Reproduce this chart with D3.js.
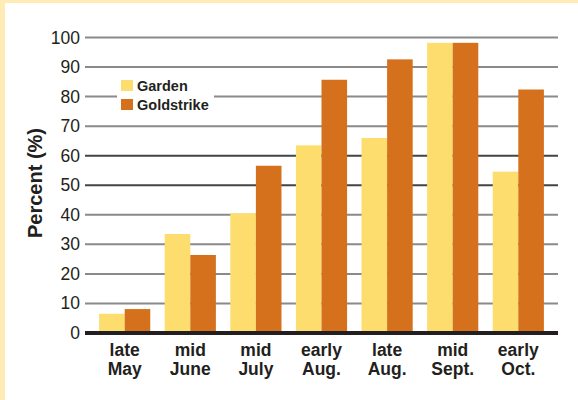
<!DOCTYPE html>
<html>
<head>
<meta charset="utf-8">
<script src="https://cdn.jsdelivr.net/npm/d3@7"></script>
<style>
  body { margin: 0; background: #fff; }
  text { font-family: "Liberation Sans", Arial, Helvetica, sans-serif; fill: #231f20; }
</style>
</head>
<body>
<script>
// data
var periods = [["late", "May"], ["mid", "June"], ["mid", "July"], ["early", "Aug."],
               ["late", "Aug."], ["mid", "Sept."], ["early", "Oct."]];
var garden = [6.5, 33.5, 40.5, 63.5, 66, 98.2, 54.6];
var goldstrike = [8.1, 26.4, 56.6, 85.7, 92.6, 98.2, 82.4];
var series = ["Garden", "Goldstrike"];
var yTicks = [0, 10, 20, 30, 40, 50, 60, 70, 80, 90, 100];

var width = 578, height = 400;
var svg = d3.select('body').append('svg').attr('width', width).attr('height', height);

// pale frame on the top and left
svg.append("rect").attr("x", 0).attr("y", 0).attr("width", width).attr("height", height).attr("fill", "#feecb4");
svg.append("rect").attr("x", 5).attr("y", 3).attr("width", width).attr("height", height).attr("fill", "#fff");

var color = d3.scaleOrdinal().domain(series).range(['#fddd6e', '#d5701c']);

var x = d3.scaleBand()
    .domain(d3.range(periods.length))
    .range([85, 558])
    .paddingInner(0.22)
    .paddingOuter(0.215);

var xs = d3.scaleBand().domain(series).range([0, x.bandwidth()]);

var y = d3.scaleLinear().domain([0, 100]).range([333, 37.5]);

// gridlines
svg.append("g").selectAll("line")
    .data(yTicks.filter(function (d) { return d > 0; }))
    .enter().append("line")
    .attr("x1", 85).attr("x2", 558)
    .attr("y1", function (d) { return y(d); })
    .attr("y2", function (d) { return y(d); })
    .attr("stroke", function (d) { return (d == 50 || d == 60) ? "#444" : "#8a8a8a"; })
    .attr("stroke-width", 2);

// tick labels
svg.append("g").selectAll("text")
    .data(yTicks)
    .enter().append("text")
    .attr("x", 80)
    .attr("y", function (d) { return y(d) + 6; })
    .attr("text-anchor", "end")
    .style("font-size", "17.5px")
    .text(function (d) { return d; });

// bars
var rows = periods.map(function (p, i) { return { i: i, Garden: garden[i], Goldstrike: goldstrike[i] }; });

var grp = svg.append("g").selectAll("g")
    .data(rows)
    .enter().append("g")
    .attr("transform", function (d) { return "translate(" + x(d.i) + ",0)"; });

grp.selectAll("rect")
    .data(function (d) { return series.map(function (s) { return { key: s, value: d[s] }; }); })
    .enter().append("rect")
    .attr("x", function (d) { return xs(d.key); })
    .attr("width", xs.bandwidth())
    .attr("y", function (d) { return y(d.value); })
    .attr("height", function (d) { return y(0) - y(d.value); })
    .attr("fill", function (d) { return color(d.key); });

// baseline
svg.append("line")
    .attr("x1", 85).attr("x2", 558)
    .attr("y1", y(0)).attr("y2", y(0))
    .attr("stroke", "#231f20")
    .attr("stroke-width", 4);

// category labels, two lines each
var cx = function (d, i) { return x(i) + x.bandwidth() / 2; };
[0, 1].forEach(function (line) {
    svg.append("g").selectAll("text")
        .data(periods)
        .enter().append("text")
        .attr("x", cx)
        .attr("y", line ? 375 : 356)
        .attr("text-anchor", "middle")
        .style("font-size", "17.5px")
        .style("font-weight", "bold")
        .text(function (d) { return d[line]; });
});

// y title
svg.append("text")
    .attr("transform", "translate(42,183) rotate(-90)")
    .attr("text-anchor", "middle")
    .style("font-size", "20px")
    .style("font-weight", "bold")
    .text("Percent (%)");

// legend
var legend = svg.append("g").attr("transform", "translate(117,72)");
legend.append("rect").attr("width", 97).attr("height", 43).attr("fill", "#fff");
var item = legend.selectAll(".item")
    .data(series)
    .enter().append("g")
    .attr("class", "item")
    .attr("transform", function (d, i) { return "translate(4," + (8 + i * 19) + ")"; });
item.append("rect")
    .attr("width", 12).attr("height", 11)
    .attr("fill", function (d) { return color(d); });
item.append("text")
    .attr("x", 16).attr("y", 10.5)
    .style("font-size", "14.5px")
    .style("font-weight", "bold")
    .text(function (d) { return d; });
</script>
</body>
</html>
